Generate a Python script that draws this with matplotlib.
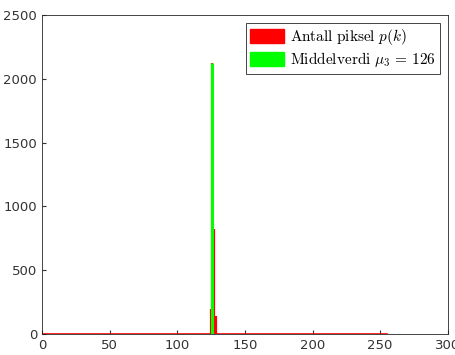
import numpy as np
import matplotlib
matplotlib.use("Agg")
import matplotlib.pyplot as plt
from matplotlib.patches import Patch

plt.rcParams['mathtext.fontset'] = 'cm'

# pixel-verdi k og antall piksler p(k)
k = np.arange(0, 256)
p = np.zeros(256)
p[125] = 200
p[126] = 2120
p[127] = 820
p[129] = 140

mu3 = 126
mu_count = 2120

fig = plt.figure(figsize=(4.56, 3.55), dpi=100)
ax = fig.add_axes([0.092, 0.059, 0.89, 0.899])

ax.plot(k, p * 0, color="r", linewidth=1.2)
ax.vlines(k, 0, p, color="r", linewidth=1.6)
ax.vlines([mu3], 0, [mu_count], color=(0, 1, 0), linewidth=2.2)

ax.set_xlim(0, 300)
ax.set_ylim(0, 2500)
ax.set_xticks([0, 50, 100, 150, 200, 250, 300])
ax.set_yticks([0, 500, 1000, 1500, 2000, 2500])
ax.tick_params(direction="in", colors="#333333", labelsize=9.5, length=3)
for s in ax.spines.values():
    s.set_color("#262626")
    s.set_linewidth(0.6)

handles = [Patch(color="r"), Patch(color=(0, 1, 0))]
labels = [r"$\mathrm{Antall\ piksel}\ p(k)$", r"$\mathrm{Middelverdi}\ \mu_3\, =\, 126$"]
leg = ax.legend(handles, labels, loc="upper right", fontsize=11, fancybox=False,
                edgecolor="#262626", framealpha=1, handlelength=2.2, handleheight=1.1,
                borderpad=0.3, labelspacing=0.2, handletextpad=0.4)
leg.get_frame().set_linewidth(0.6)

fig.savefig("out.png", dpi=100)
